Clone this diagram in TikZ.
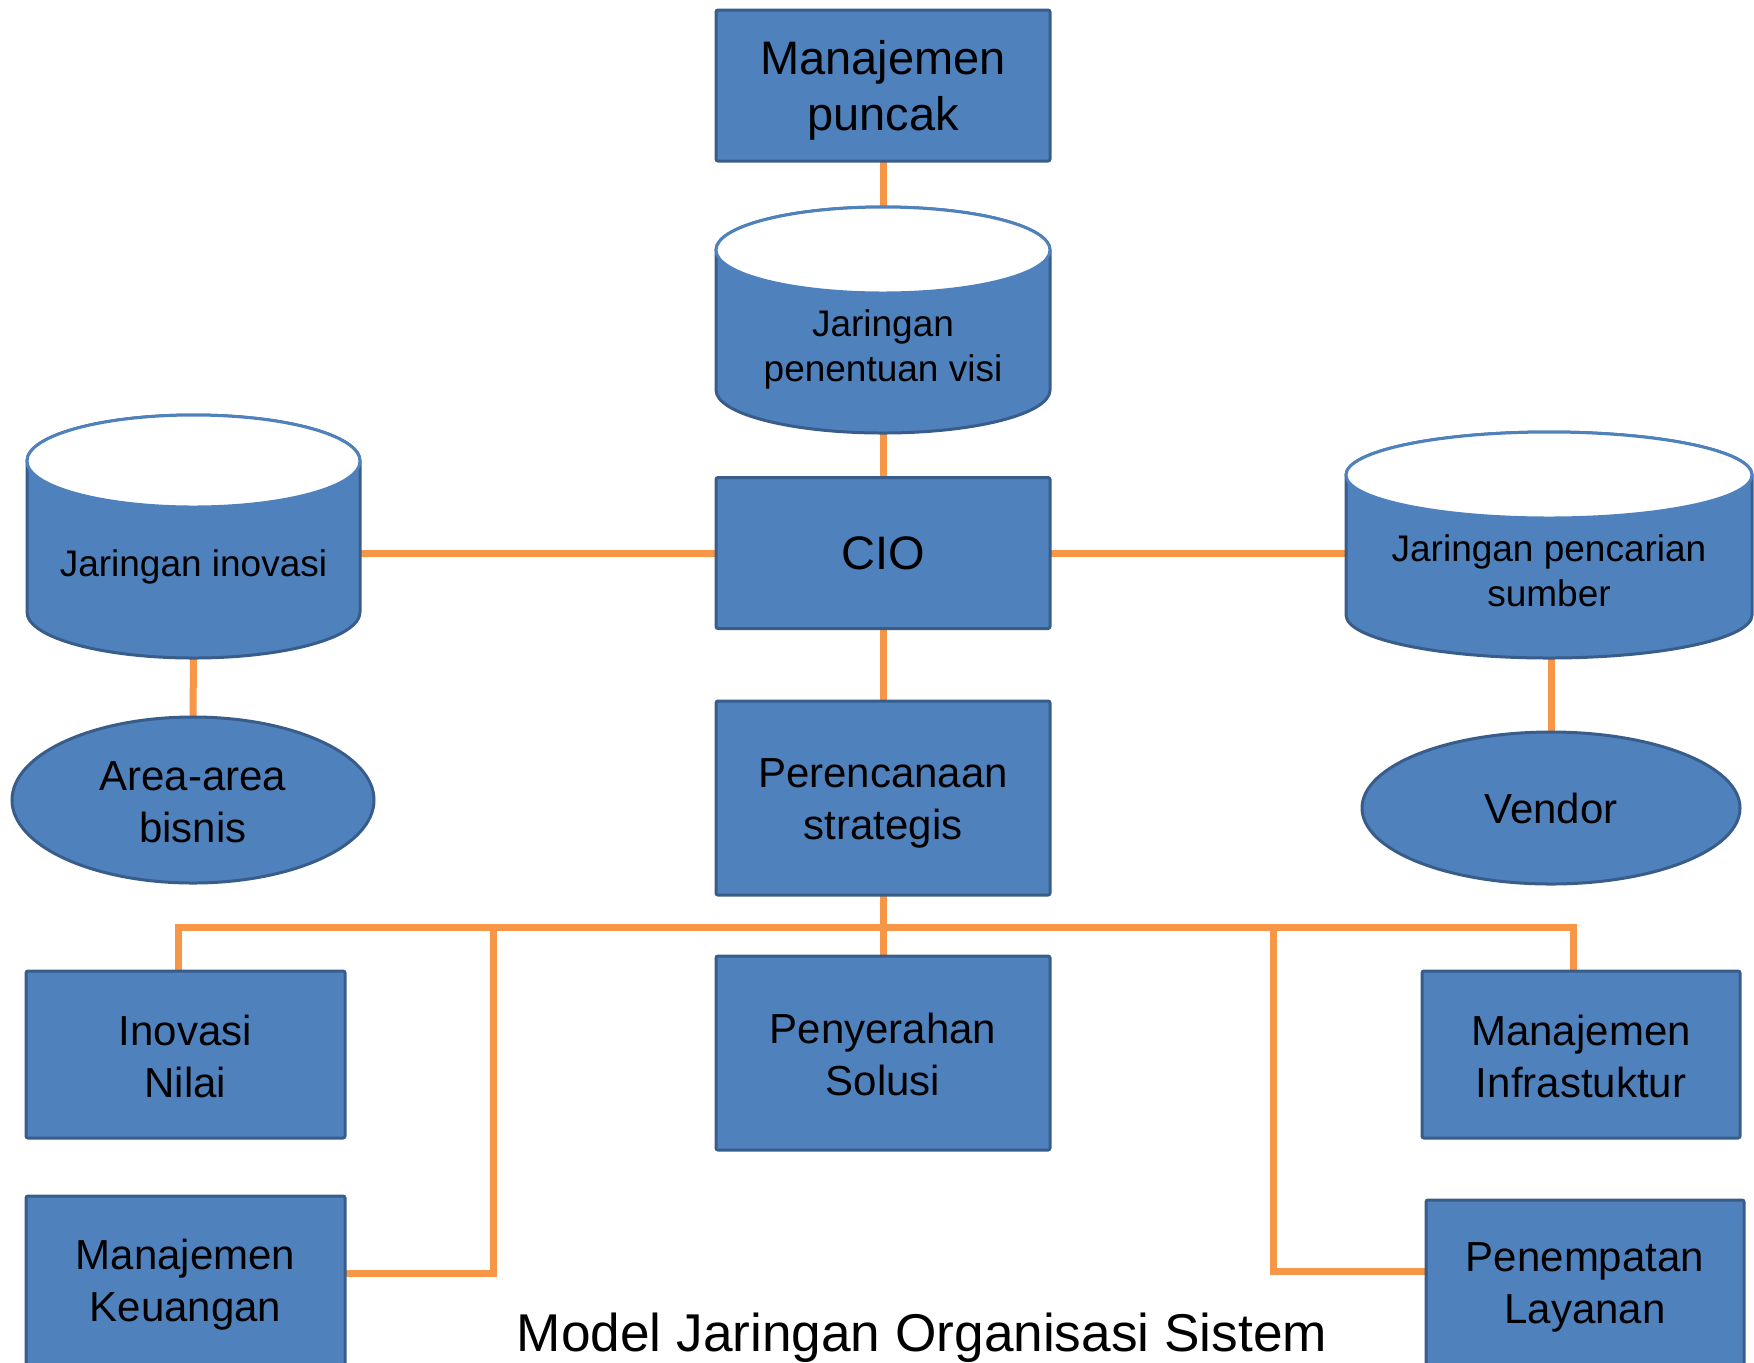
\documentclass[tikz,border=0pt]{standalone}
\usepackage{fontspec}
\setmainfont{Liberation Sans}
\usetikzlibrary{shapes.geometric,backgrounds}
\definecolor{boxblue}{HTML}{4F81BD}
\definecolor{boxedge}{HTML}{385D8A}
\definecolor{linkorange}{HTML}{F79646}
\begin{document}
\begin{tikzpicture}[x=0.5pt,y=0.5pt,
  box/.style={draw=boxedge, fill=boxblue, line width=1.5pt, rounded corners=1pt, inner sep=0pt, outer sep=0pt},
  oval/.style={ellipse, draw=boxedge, fill=boxblue, line width=1.5pt, inner sep=0pt, outer sep=0pt, align=center, text=black},
  cylbody/.style={draw=boxedge, fill=boxblue, line width=1.5pt},
  cyltop/.style={draw=boxblue, fill=white, line width=1.5pt},
  hit/.style={draw=none, inner sep=0pt, outer sep=0pt},
  link/.style={draw=linkorange, line width=3.5pt},
  big/.style={font=\fontsize{23.5}{28}\selectfont, align=center, inner sep=0pt},
  mid/.style={font=\fontsize{21}{26}\selectfont, align=center, inner sep=0pt},
  small/.style={font=\fontsize{18.5}{22.5}\selectfont, align=center, inner sep=0pt}]
\useasboundingbox (0,0) rectangle (1754,-1362);
\clip (0,0) rectangle (1754,-1362);

% boxes
\node[box, minimum width=167pt, minimum height=75.5pt] (top) at (883,-85.5) {};
\node[big] (topt) at (883,-90) {Manajemen\\puncak};
\node[box, minimum width=167pt, minimum height=75.5pt] (cio) at (883,-553) {};
\node[big] (ciot) at (883,-553) {CIO};
\node[box, minimum width=167pt, minimum height=97pt] (perenc) at (883,-798) {};
\node[mid] (perenct) at (883,-803.5) {Perencanaan\\strategis};
\node[box, minimum width=167pt, minimum height=97pt] (penyer) at (883,-1053) {};
\node[mid] (penyert) at (883,-1054.5) {Penyerahan\\Solusi};
\node[box, minimum width=159.5pt, minimum height=83.5pt] (inov) at (185.5,-1054.5) {};
\node[mid] (inovbt) at (185.5,-1056) {Inovasi\\Nilai};
\node[box, minimum width=159.5pt, minimum height=85pt] (keu) at (185.5,-1281) {};
\node[mid] (keut) at (185.5,-1285) {Manajemen\\Keuangan};
\node[box, minimum width=159pt, minimum height=83.5pt] (infra) at (1581,-1054.5) {};
\node[mid] (infrat) at (1581,-1056) {Manajemen\\Infrastuktur};
\node[box, minimum width=159pt, minimum height=84pt] (penemp) at (1585,-1284) {};
\node[mid] (penempt) at (1585,-1287.5) {Penempatan\\Layanan};

% ellipses
\node[oval, minimum width=181pt, minimum height=83pt] (area) at (193,-800) {};
\node[mid] (areat) at (193,-802) {Area-area\\bisnis};
\node[oval, minimum width=189pt, minimum height=76pt] (vendor) at (1551,-808) {};
\node[mid] (vendort) at (1551,-808) {Vendor};

% cylinders
\draw[cylbody] (716,-250) -- (716,-390) arc[start angle=180,end angle=360,x radius=167,y radius=43] -- (1050,-250) arc[start angle=0,end angle=180,x radius=167,y radius=43] -- cycle;
\draw[cyltop] (883,-250) ellipse [x radius=167, y radius=43];
\node[hit, minimum width=167pt, minimum height=113pt] (vis) at (883,-320) {};
\node[small] (vist) at (883,-349.5) {Jaringan\\penentuan visi};

\draw[cylbody] (27,-461) -- (27,-612) arc[start angle=180,end angle=360,x radius=166.5,y radius=46] -- (360,-461) arc[start angle=0,end angle=180,x radius=166.5,y radius=46] -- cycle;
\draw[cyltop] (193.5,-461) ellipse [x radius=166.5, y radius=46];
\node[hit, minimum width=166.5pt, minimum height=121.5pt] (inovc) at (193.5,-536.5) {};
\node[small] (inovt) at (193.5,-567) {Jaringan inovasi};

\draw[cylbody] (1346,-475) -- (1346,-615) arc[start angle=180,end angle=360,x radius=203,y radius=43] -- (1752,-475) arc[start angle=0,end angle=180,x radius=203,y radius=43] -- cycle;
\draw[cyltop] (1549,-475) ellipse [x radius=203, y radius=43];
\node[hit, minimum width=203pt, minimum height=113pt] (srch) at (1549,-545) {};
\node[small] (srcht) at (1549,-571) {Jaringan pencarian\\sumber};

% title
\node[font=\fontsize{26.6}{32}\selectfont, anchor=base, inner sep=0pt] (title) at (922,-1351) {Model Jaringan Organisasi Sistem};

% connectors
\coordinate (busL) at (178,-927);
\coordinate (busR) at (1573,-927);
\coordinate (busL2) at (493,-927);
\coordinate (busR2) at (1273,-927);
\coordinate (kL) at (493,-1273);
\coordinate (pR) at (1273,-1271);
\begin{scope}[on background layer]
\draw[link] (top.south) -- (vis.north);
\draw[link] (vis.south) -- (cio.north);
\draw[link] (inovc.east |- cio.west) -- (cio.west);
\draw[link] (cio.east) -- (srch.west |- cio.east);
\draw[link] (inovc.south) -- (area.north);
\draw[link] (srch.south -| vendor.north) -- (vendor.north);
\draw[link] (cio.south) -- (perenc.north);
\draw[link] (perenc.south) -- (penyer.north);
\draw[link] (inov.north -| busL) -- (busL) -- (busR) -- (infra.north -| busR);
\draw[link] (busL2) -- (kL) -- (keu.east |- kL);
\draw[link] (busR2) -- (pR) -- (penemp.west |- pR);
\end{scope}
\end{tikzpicture}
\end{document}
